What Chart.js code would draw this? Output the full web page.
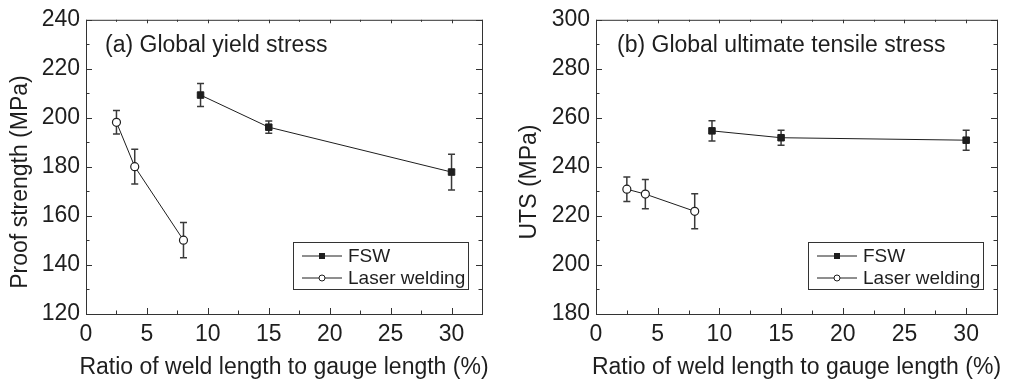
<!DOCTYPE html>
<html>
<head>
<meta charset="utf-8">
<script src="https://cdn.jsdelivr.net/npm/chart.js@4/dist/chart.umd.min.js"></script>
<style>
  body { margin: 0; background: #fff; }
  .wrap { display: flex; width: 1010px; height: 387px; }
  canvas { display: block; }
</style>
</head>
<body>
<div class="wrap">
  <canvas id="chartYield" width="505" height="387"></canvas>
  <canvas id="chartUts" width="505" height="387"></canvas>
</div>
<script>
// ratio of weld length to gauge length (%)
var ratioFSW = [9.4, 15, 30];
var ratioLaser = [2.5, 4, 8];
var xTickValues = [0, 5, 10, 15, 20, 25, 30];

// (a) proof strength, MPa
var yieldFSW = [209.3, 196.2, 177.9];
var yieldFSWErr = [4.7, 2.5, 7.3];
var yieldLaser = [198.2, 180.1, 150.1];
var yieldLaserErr = [4.8, 7.1, 7.2];

// (b) UTS, MPa
var utsFSW = [254.7, 251.9, 250.9];
var utsFSWErr = [4.1, 3.1, 4.1];
var utsLaser = [230.9, 228.9, 221.9];
var utsLaserErr = [5.0, 6.0, 7.1];

var seriesNames = ['FSW', 'Laser welding'];
var xTitle = 'Ratio of weld length to gauge length (%)';

var FONT = "'Liberation Sans', Arial, sans-serif";
var INK = '#1e1e1e';

function toPoints(xs, ys) {
    return xs.map(function (x, i) { return { x: x, y: ys[i] }; });
}

// error bars, drawn under the markers
var errorBars = {
    id: 'errorBars',
    beforeDatasetsDraw: function (chart) {
        var ctx = chart.ctx;
        var xs = chart.scales.x, ys = chart.scales.y;
        ctx.save();
        ctx.strokeStyle = '#3a3a3a';
        ctx.lineWidth = 1.5;
        chart.data.datasets.forEach(function (ds) {
            ds.data.forEach(function (p, i) {
                var e = ds.errors[i];
                var px = xs.getPixelForValue(p.x);
                var top = ys.getPixelForValue(p.y + e);
                var bot = ys.getPixelForValue(p.y - e);
                ctx.beginPath();
                ctx.moveTo(px, top); ctx.lineTo(px, bot);
                ctx.moveTo(px - 3.5, top); ctx.lineTo(px + 3.5, top);
                ctx.moveTo(px - 3.5, bot); ctx.lineTo(px + 3.5, bot);
                ctx.stroke();
            });
        });
        ctx.restore();
    }
};

// box around the plot with inward ticks on all four sides
var frame = {
    id: 'frame',
    afterDraw: function (chart) {
        var ctx = chart.ctx, a = chart.chartArea;
        var xs = chart.scales.x, ys = chart.scales.y;
        ctx.save();
        ctx.strokeStyle = '#333';
        ctx.lineWidth = 1;
        ctx.strokeRect(a.left + 0.5, a.top + 0.5, a.right - a.left, a.bottom - a.top);
        ctx.beginPath();
        for (var v = 0; v <= 32.5; v += 2.5) {
            var px = Math.round(xs.getPixelForValue(v)) + 0.5;
            var major = v % 5 === 0;
            ctx.moveTo(px, a.bottom); ctx.lineTo(px, a.bottom - (major ? 6 : 3.5));
            ctx.moveTo(px, a.top); ctx.lineTo(px, a.top + (major ? 3.5 : 2));
        }
        var step = chart.options.scales.y.ticks.stepSize / 2;
        for (var w = ys.min; w <= ys.max + 0.01; w += step) {
            var py = Math.round(ys.getPixelForValue(w)) + 0.5;
            var l = Math.round((w - ys.min) / step) % 2 === 0 ? 6 : 3.5;
            ctx.moveTo(a.left, py); ctx.lineTo(a.left + l, py);
            ctx.moveTo(a.right, py); ctx.lineTo(a.right - l, py);
        }
        ctx.stroke();
        ctx.restore();
    }
};

// panel caption, axis titles and inner legend
// (axis titles drawn here: chart.js squeezes a title to the scale width)
var annotations = {
    id: 'annotations',
    afterDraw: function (chart) {
        var ctx = chart.ctx, a = chart.chartArea;
        var o = chart.options.plugins.annotations;
        ctx.save();
        ctx.fillStyle = INK;
        ctx.font = '23px ' + FONT;
        ctx.textBaseline = 'middle';
        ctx.fillText(o.caption, a.left + o.captionDx, a.top + 26);

        ctx.textAlign = 'center';
        ctx.fillText(xTitle, (a.left + a.right) / 2, 368);

        // y title sits a little below the axis middle, as in the original figure
        ctx.save();
        ctx.translate(o.yTitleX, 182);
        ctx.rotate(-Math.PI / 2);
        ctx.fillText(o.yTitle, 0, 0);
        ctx.restore();
        ctx.textAlign = 'left';

        var bx = a.right - 14 - o.legendW, by = a.bottom - 72, bw = o.legendW, bh = 47;
        ctx.strokeStyle = '#333';
        ctx.lineWidth = 1;
        ctx.strokeRect(Math.round(bx) + 0.5, Math.round(by) + 0.5, bw, bh);
        seriesNames.forEach(function (name, i) {
            var cy = by + 14 + i * 22;
            var lx = bx + 9;
            ctx.strokeStyle = INK;
            ctx.beginPath();
            ctx.moveTo(lx, cy); ctx.lineTo(lx + 40, cy);
            ctx.stroke();
            if (i === 0) {
                ctx.fillStyle = INK;
                ctx.fillRect(lx + 17, cy - 3, 6, 6);
            } else {
                ctx.fillStyle = '#fff';
                ctx.beginPath();
                ctx.arc(lx + 20, cy, 3, 0, Math.PI * 2);
                ctx.fill();
                ctx.stroke();
            }
            ctx.fillStyle = INK;
            ctx.font = '19px ' + FONT;
            ctx.fillText(name, lx + 46, cy + 1);
        });
        ctx.restore();
    }
};

function makeChart(id, fswY, fswE, laserY, laserE, yMin, yMax, yTitle, caption, padRight, yWidth, captionDx, yTitleX) {
    return new Chart(document.getElementById(id), {
        type: 'scatter',
        data: {
            datasets: [{
                label: seriesNames[0],
                data: toPoints(ratioFSW, fswY),
                errors: fswE,
                showLine: true,
                borderColor: INK,
                borderWidth: 1,
                pointStyle: 'rect',
                pointRadius: 4.6,
                pointBackgroundColor: INK,
                pointBorderColor: INK
            }, {
                label: seriesNames[1],
                data: toPoints(ratioLaser, laserY),
                errors: laserE,
                showLine: true,
                borderColor: INK,
                borderWidth: 1,
                pointStyle: 'circle',
                pointRadius: 4,
                pointBorderWidth: 1.2,
                pointBackgroundColor: '#fff',
                pointBorderColor: INK
            }]
        },
        options: {
            responsive: false,
            animation: false,
            layout: { padding: { top: 17, right: padRight, left: 0, bottom: 0 } },
            plugins: {
                legend: { display: false },
                tooltip: { enabled: false },
                annotations: { caption: caption, captionDx: captionDx, legendW: 175, yTitle: yTitle, yTitleX: yTitleX }
            },
            scales: {
                x: {
                    type: 'linear',
                    min: 0,
                    max: 32.5,
                    grid: { display: false, drawTicks: false },
                    border: { display: false },
                    afterBuildTicks: function (s) {
                        s.ticks = xTickValues.map(function (v) { return { value: v }; });
                    },
                    afterFit: function (s) { s.height = 73; },
                    ticks: { padding: 7, color: INK, font: { family: FONT, size: 23 }, maxRotation: 0 }
                },
                y: {
                    min: yMin,
                    max: yMax,
                    grid: { display: false, drawTicks: false },
                    border: { display: false },
                    afterFit: function (s) { s.width = yWidth; },
                    ticks: { stepSize: 20, padding: 6, color: INK, font: { family: FONT, size: 23 } }
                }
            }
        },
        plugins: [errorBars, frame, annotations]
    });
}

makeChart('chartYield', yieldFSW, yieldFSWErr, yieldLaser, yieldLaserErr, 120, 240,
    'Proof strength (MPa)', '(a) Global yield stress', 23, 86, 19, 21);
makeChart('chartUts', utsFSW, utsFSWErr, utsLaser, utsLaserErr, 180, 300,
    'UTS (MPa)', '(b) Global ultimate tensile stress', 13, 91, 21, 25);
</script>
</body>
</html>
